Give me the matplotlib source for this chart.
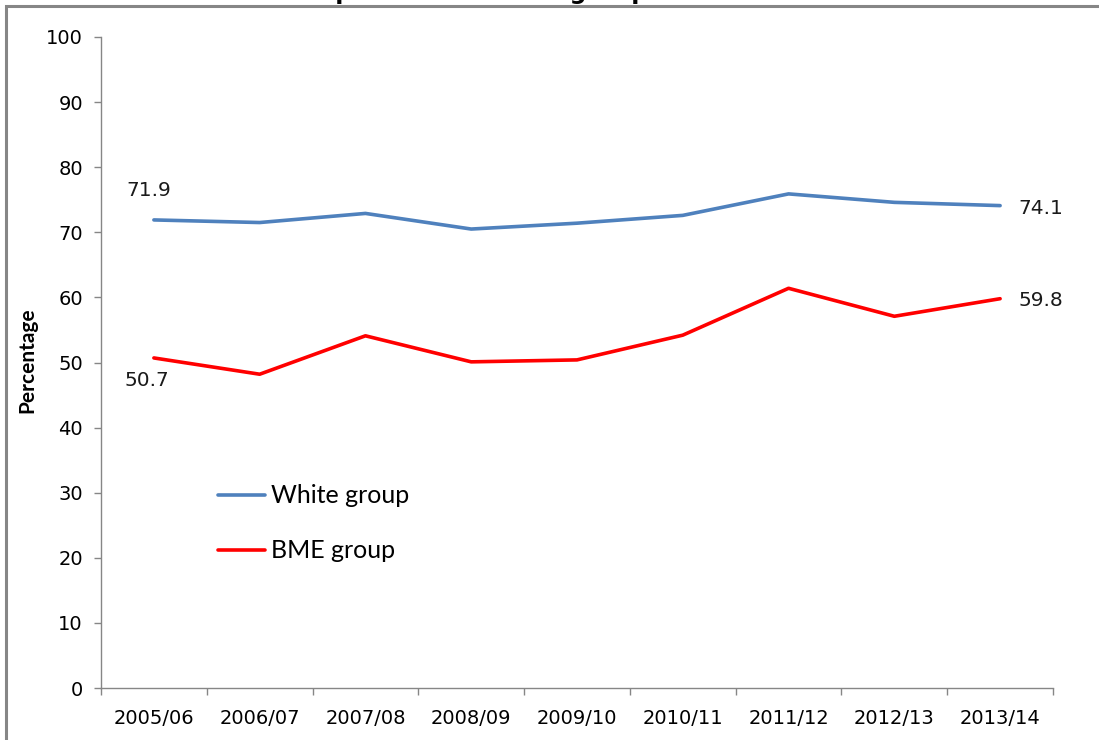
import matplotlib
matplotlib.use("Agg")
import matplotlib.pyplot as plt
from matplotlib.patches import Rectangle
from matplotlib.ticker import MultipleLocator, FixedLocator

years = ["2005/06", "2006/07", "2007/08", "2008/09", "2009/10",
         "2010/11", "2011/12", "2012/13", "2013/14"]
white_group = [71.9, 71.5, 72.9, 70.5, 71.4, 72.6, 75.9, 74.6, 74.1]
bme_group = [50.7, 48.2, 54.1, 50.1, 50.4, 54.2, 61.4, 57.1, 59.8]

BLUE = "#4F81BD"
RED = "#FF0000"
GREY = "#868686"

fig = plt.figure(figsize=(10.99, 7.40), dpi=100)
ax = fig.add_axes([101 / 1099, 1 - 688 / 740, 952 / 1099, 651 / 740])

# chart area frame (runs off the right and bottom edges)
fig.patches.append(Rectangle((6 / 1099, -0.1), 1.2, 1 - 6 / 740 + 0.1,
                             transform=fig.transFigure, fill=False,
                             edgecolor=GREY, linewidth=2.2, zorder=0))

# title sits above the visible area, only its descenders show
fig.text(470 / 1099, 1 + 1 / 740, "Comparison of ethnic groups", ha="center",
         va="baseline", fontsize=17, fontweight="bold", family="DejaVu Sans")

x = list(range(len(years)))
ax.plot(x, white_group, color=BLUE, lw=2.6, label="White group", solid_capstyle="round")
ax.plot(x, bme_group, color=RED, lw=2.6, label="BME group", solid_capstyle="round")

lab_kw = dict(textcoords="offset points", fontsize=14.5, family="DejaVu Sans", color="#1a1a1a")
ax.annotate(f"{white_group[0]}", (x[0], white_group[0]), xytext=(-4, 21),
            ha="center", va="center", **lab_kw)
ax.annotate(f"{bme_group[0]}", (x[0], bme_group[0]), xytext=(-5, -16),
            ha="center", va="center", **lab_kw)
ax.annotate(f"{white_group[-1]}", (x[-1], white_group[-1]), xytext=(13, -2),
            ha="left", va="center", **lab_kw)
ax.annotate(f"{bme_group[-1]}", (x[-1], bme_group[-1]), xytext=(13, -1),
            ha="left", va="center", **lab_kw)

ax.set_xlim(-0.5, len(years) - 0.5)
ax.set_ylim(0, 100)
ax.yaxis.set_major_locator(MultipleLocator(10))

# category boundaries get tick marks, labels sit at the centres
ax.xaxis.set_major_locator(FixedLocator([i - 0.5 for i in range(len(years) + 1)]))
ax.xaxis.set_major_formatter(plt.NullFormatter())
ax.xaxis.set_minor_locator(FixedLocator(x))
ax.set_xticklabels(years, minor=True, fontsize=14, family="Liberation Sans Narrow")
ax.tick_params(axis="x", which="major", length=5, width=1, color=GREY, direction="out")
ax.tick_params(axis="x", which="minor", length=0, pad=15)
ax.tick_params(axis="y", length=5, width=1, color=GREY, direction="out", pad=8,
               labelsize=14)
for t in ax.get_yticklabels():
    t.set_family("DejaVu Sans")

for s in ("top", "right"):
    ax.spines[s].set_visible(False)
for s in ("left", "bottom"):
    ax.spines[s].set_color(GREY)
    ax.spines[s].set_linewidth(1)

fig.text(27 / 1099, 1 - 360 / 740, "Percentage", rotation=90, ha="center", va="center",
         fontsize=15, fontweight="bold", family="Lato")

ax.legend(frameon=False, loc="upper left", bbox_to_anchor=(195 / 1099, 1 - 462 / 740),
          bbox_transform=fig.transFigure, prop={"family": "Lato", "size": 18},
          handlelength=1.9, handletextpad=0.25, labelspacing=1.28)

fig.savefig("out.png", dpi=100)
